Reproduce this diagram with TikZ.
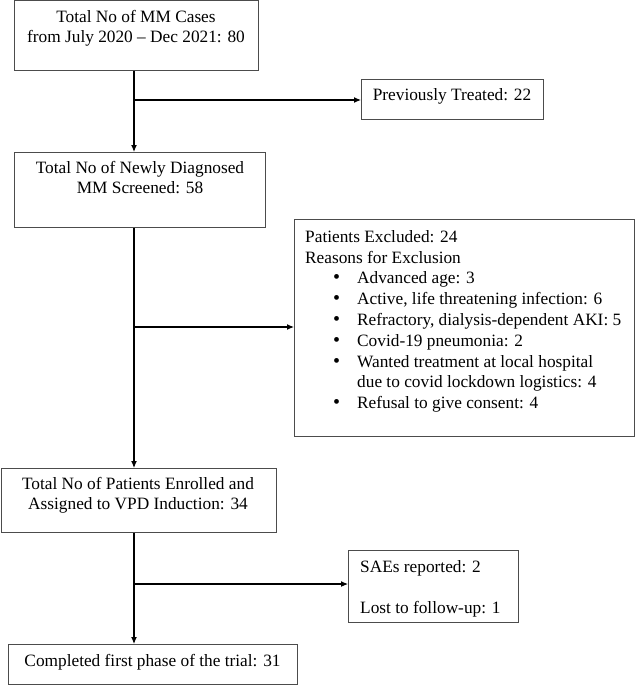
\documentclass[tikz,border=0pt]{standalone}
\usepackage{fontspec}
\setmainfont{Liberation Serif}
\usetikzlibrary{arrows.meta}
\newcommand{\bul}{\hspace*{28pt}\makebox[24pt][l]{\fontsize{20}{20}\selectfont\textbullet}}
\begin{document}
\begin{tikzpicture}[x=1pt,y=-1pt,
  box/.style={draw=black!70, line width=0.8pt, rectangle, inner sep=0pt, anchor=north west},
  txt/.style={font=\fontsize{17.3}{20}\selectfont, inner sep=0pt, align=center},
  ltxt/.style={font=\fontsize{17.3}{20.8}\selectfont, inner sep=0pt, align=left},
  arr/.style={line width=1.1pt, -{Latex[length=7pt,width=6pt]}},
  ln/.style={line width=1.1pt}]
\useasboundingbox (0,0) rectangle (635,685);

% boxes
\node[box, minimum width=244pt, minimum height=69.5pt] (b1) at (14,0.5) {};
\node[box, minimum width=182pt, minimum height=40pt] (b2) at (361,79) {};
\node[box, minimum width=251pt, minimum height=75pt] (b3) at (14,152) {};
\node[box, minimum width=340pt, minimum height=217pt] (b4) at (294,219) {};
\node[box, minimum width=275pt, minimum height=64pt] (b5) at (0.5,468) {};
\node[box, minimum width=170pt, minimum height=72pt] (b6) at (348,550) {};
\node[box, minimum width=289pt, minimum height=39.5pt] (b7) at (8,644) {};

% texts
\node[txt, anchor=north] (t1) at (136,10) {Total No of MM Cases\\from July 2020 -- Dec 2021: 80};
\node[txt, anchor=north] (t2) at (452,88.5) {Previously Treated: 22};
\node[txt, anchor=north] (t3) at (140,161) {Total No of Newly Diagnosed\\MM Screened: 58};
\node[ltxt, anchor=north west] (t4) at (305,230) {Patients Excluded: 24\\
Reasons for Exclusion\\
\bul Advanced age: 3\\
\bul Active, life threatening infection: 6\\
\bul Refractory, dialysis-dependent AKI: 5\\
\bul Covid-19 pneumonia: 2\\
\bul Wanted treatment at local hospital\\
\hspace*{52pt}due to covid lockdown logistics: 4\\
\bul Refusal to give consent: 4};
\node[txt, anchor=north] (t5) at (138,477) {Total No of Patients Enrolled and\\Assigned to VPD Induction: 34};
\node[ltxt, anchor=north west] (t6) at (360,560) {SAEs reported: 2\\[20pt]Lost to follow-up: 1};
\node[txt, anchor=north] (t7) at (152.5,654) {Completed first phase of the trial: 31};

% connectors
\coordinate (j1) at (134,100);
\coordinate (j2) at (134,327);
\coordinate (j3) at (134,584);
\draw[arr] (b1.south -| j1) -- (b3.north -| j1);
\draw[arr] (j1) -- (j1 -| b2.west);
\draw[arr] (b3.south -| j2) -- (b5.north -| j2);
\draw[arr] (j2) -- (j2 -| b4.west);
\draw[arr] (b5.south -| j3) -- (b7.north -| j3);
\draw[arr] (j3) -- (j3 -| b6.west);
\end{tikzpicture}
\end{document}
